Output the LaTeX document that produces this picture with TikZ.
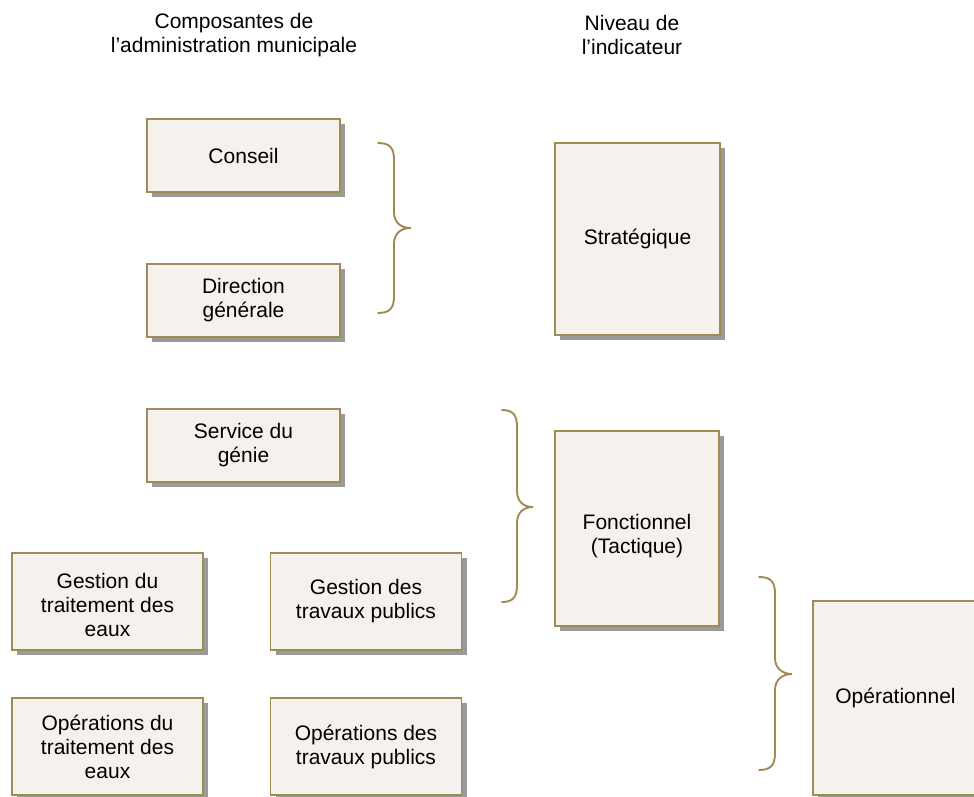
\documentclass[tikz,border=0pt]{standalone}
\usepackage{fontspec}
\setmainfont{Liberation Sans}
\usetikzlibrary{shadows}
\definecolor{bordc}{HTML}{A08A55}
\definecolor{boxfill}{HTML}{F5F2EE}
\definecolor{shadc}{HTML}{9A9A9A}
\tikzset{
  box/.style={draw=bordc, line width=1.9pt, fill=boxfill, align=center,
    font=\fontsize{21}{24}\selectfont, inner sep=0pt,
    drop shadow={shadow xshift=5pt, shadow yshift=-5pt, fill=shadc, opacity=1}},
  smallbox/.style={box, minimum width=193pt, minimum height=73pt},
  tallbox/.style={box, minimum width=191pt, minimum height=97pt},
  levelbox/.style={box, minimum width=165pt, minimum height=193pt},
  boxtext/.style={align=center, font=\fontsize{21}{24}\selectfont, inner sep=0pt},
  bracepath/.style={draw=bordc, line width=1.9pt, line cap=round},
  header/.style={align=center, font=\fontsize{21}{24.5}\selectfont}
}
\begin{document}
\begin{tikzpicture}[x=1pt,y=-1pt]
\useasboundingbox (0,0) rectangle (974,797);
\clip (0,0) rectangle (974,797);
\fill[white] (0,0) rectangle (974,797);

\node[header] (h1) at (234,35) {Composantes de\\l’administration municipale};
\node[header] (h2) at (632,35) {Niveau de\\l’indicateur};

\node[smallbox] (conseil) at (243.5,155.5) {Conseil};
\node[smallbox] (direction) at (243.5,300.5) {Direction\\générale};
\node[smallbox] (service) at (243.5,445.5) {Service du\\génie};
\node[tallbox] (gte) at (107.5,601.5) {};
\node[boxtext] (gtet) at ([yshift=-3pt]gte.center) {Gestion du\\traitement des\\eaux};
\node[tallbox] (gtp) at (366,601.5) {Gestion des\\travaux publics};
\node[tallbox] (ote) at (107.5,746.5) {Opérations du\\traitement des\\eaux};
\node[tallbox] (otp) at (366,746.5) {Opérations des\\travaux publics};

\node[levelbox, minimum height=192pt] (strat) at (637.5,239) {Stratégique};
\node[levelbox, minimum width=164pt, minimum height=195pt] (fonc) at (637,528.5) {};
\node[boxtext] (fonct) at ([yshift=-8pt]fonc.center) {Fonctionnel\\(Tactique)};
\node[levelbox, minimum height=194pt] (oper) at (895.5,698) {Opérationnel};

% braces
\draw[bracepath] (378,143) .. controls (390,143) and (394,148) .. (394,160) -- (394,212)
  .. controls (394,222) and (400,228) .. (411,228)
  .. controls (400,228) and (394,234) .. (394,244) -- (394,296)
  .. controls (394,308) and (390,313) .. (378,313);
\draw[bracepath] (502,410) .. controls (513,410) and (517,415) .. (517,427) -- (517,491)
  .. controls (517,501) and (523,507) .. (533,507)
  .. controls (523,507) and (517,513) .. (517,523) -- (517,585)
  .. controls (517,597) and (513,602) .. (502,602);
\draw[bracepath] (759,577) .. controls (771,577) and (775,582) .. (775,594) -- (775,658)
  .. controls (775,668) and (782,674) .. (792,674)
  .. controls (782,674) and (775,680) .. (775,690) -- (775,753)
  .. controls (775,765) and (771,770) .. (759,770);
\end{tikzpicture}
\end{document}
